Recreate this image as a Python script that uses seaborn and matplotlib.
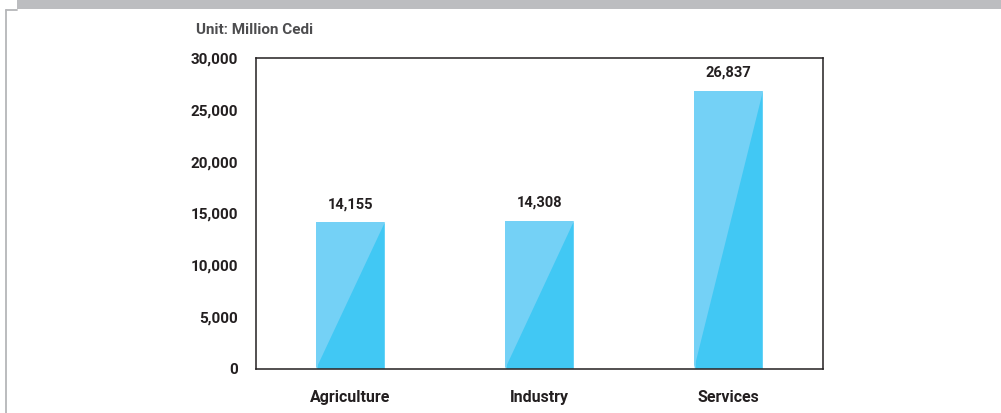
import matplotlib
matplotlib.use("Agg")
import matplotlib.pyplot as plt
from matplotlib.patches import Polygon, Rectangle
from matplotlib.lines import Line2D
import seaborn as sns

categories = ["Agriculture", "Industry", "Services"]
values = [14155, 14308, 26837]
value_labels = ["14,155", "14,308", "26,837"]
yticks = [0, 5000, 10000, 15000, 20000, 25000, 30000]
ytick_labels = ["0", "5,000", "10,000", "15,000", "20,000", "25,000", "30,000"]
unit_text = "Unit: Million Cedi"

DARK = "#41C8F4"
LIGHT = "#74D1F6"
TXT = "#231F20"

sns.set_style("white")
plt.rcParams["font.family"] = ["Roboto", "DejaVu Sans"]

W, H = 1001, 413
fig = plt.figure(figsize=(W / 100, H / 100), dpi=100)

# frame decorations
fig.patches.append(Rectangle((17 / W, 1 - 9 / H), 1 - 17 / W, 9 / H, transform=fig.transFigure,
                             facecolor="#BCBDC0", edgecolor="none"))
fig.lines.append(Line2D([5.5 / W, 5.5 / W], [0, 1 - 9.5 / H], transform=fig.transFigure,
                        color="#B5B6B9", lw=1.3))
fig.lines.append(Line2D([5.5 / W, 17 / W], [1 - 9.5 / H, 1 - 9.5 / H], transform=fig.transFigure,
                        color="#B5B6B9", lw=1.3))

ax = fig.add_axes([256 / W, (H - 369) / H, 567 / W, 311 / H])
sns.barplot(x=categories, y=values, color=DARK, saturation=1, width=0.37, ax=ax)

for p in list(ax.patches):
    x0, w, h = p.get_x(), p.get_width(), p.get_height()
    ax.add_patch(Polygon([(x0, 0), (x0, h), (x0 + w, h)], closed=True,
                         facecolor=LIGHT, edgecolor="none", zorder=p.get_zorder() + 0.1))

ax.bar_label(ax.containers[0], labels=value_labels, padding=8, fontsize=10.5,
             fontweight="bold", color=TXT)

ax.set_xlim(-0.5, 2.5)
ax.set_ylim(0, 30000)
ax.set_yticks(yticks)
ax.set_yticklabels(ytick_labels)
ax.tick_params(axis="y", length=0, pad=13, labelsize=11, labelcolor=TXT)
ax.tick_params(axis="x", length=0, pad=15, labelsize=11.5, labelcolor=TXT)
for lab in ax.get_xticklabels() + ax.get_yticklabels():
    lab.set_fontweight("bold")
ax.set_xlabel("")
ax.set_ylabel("")
for s in ax.spines.values():
    s.set_visible(True)
    s.set_color("#231F20")
    s.set_linewidth(1.1)
ax.grid(False)

fig.text(196 / W, 1 - 30 / H, unit_text, ha="left", va="center", fontsize=11,
         fontweight="bold", color="#4D4D4F")

fig.savefig("out.png", dpi=100, facecolor="white")
